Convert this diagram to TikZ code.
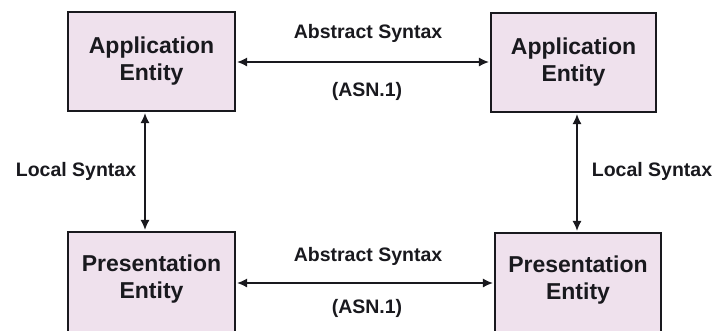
\documentclass[tikz,border=0pt]{standalone}
\usepackage{fontspec}
\setmainfont{Liberation Sans}
\usetikzlibrary{arrows.meta,calc}
\definecolor{boxfill}{RGB}{239,225,237}
\definecolor{ink}{RGB}{25,25,30}
\tikzset{
  entity/.style={draw=ink, line width=1.3pt, fill=boxfill, minimum width=167pt, minimum height=99pt,
    inner sep=0pt, align=center, font=\bfseries\fontsize{23}{27}\selectfont, text=ink},
  lbl/.style={font=\bfseries\fontsize{19.5}{22}\selectfont, text=ink, inner sep=0pt},
  conn/.style={draw=ink, line width=1.1pt, {Latex[length=10pt,width=9pt]}-{Latex[length=10pt,width=9pt]}, shorten <=1.5pt, shorten >=1.5pt}
}
\begin{document}
\begin{tikzpicture}[x=1pt,y=-1pt]
\clip (0,0) rectangle (718,330);
\fill[white] (0,0) rectangle (718,330);
\node[entity] (tl) at (151.5,61.5) {Application\\Entity};
\node[entity, minimum width=165pt] (tr) at (573.5,62.5) {Application\\Entity};
\node[entity, minimum height=103pt] (bl) at (151.5,283.5) {Presentation\\Entity\rule[-13pt]{0pt}{13pt}};
\node[entity, minimum width=166pt, minimum height=103pt] (br) at (578,284.5) {Presentation\\Entity\rule[-13pt]{0pt}{13pt}};
\coordinate (ta) at (145,0);
\coordinate (tb) at (577,0);
\draw[conn] (tl.east |- 0,62) -- (tr.west |- 0,62);
\draw[conn] (bl.east |- 0,283) -- (br.west |- 0,283);
\draw[conn] (ta |- tl.south) -- (ta |- bl.north);
\draw[conn] (tb |- tr.south) -- (tb |- br.north);
\node[lbl] (a1) at (368,33) {Abstract Syntax};
\node[lbl] (a2) at (367,91) {(ASN.1)};
\node[lbl] (a3) at (368,256) {Abstract Syntax};
\node[lbl] (a4) at (367,308) {(ASN.1)};
\node[lbl] (l1) at (76,171) {Local Syntax};
\node[lbl] (l2) at (652,171) {Local Syntax};
\end{tikzpicture}
\end{document}
